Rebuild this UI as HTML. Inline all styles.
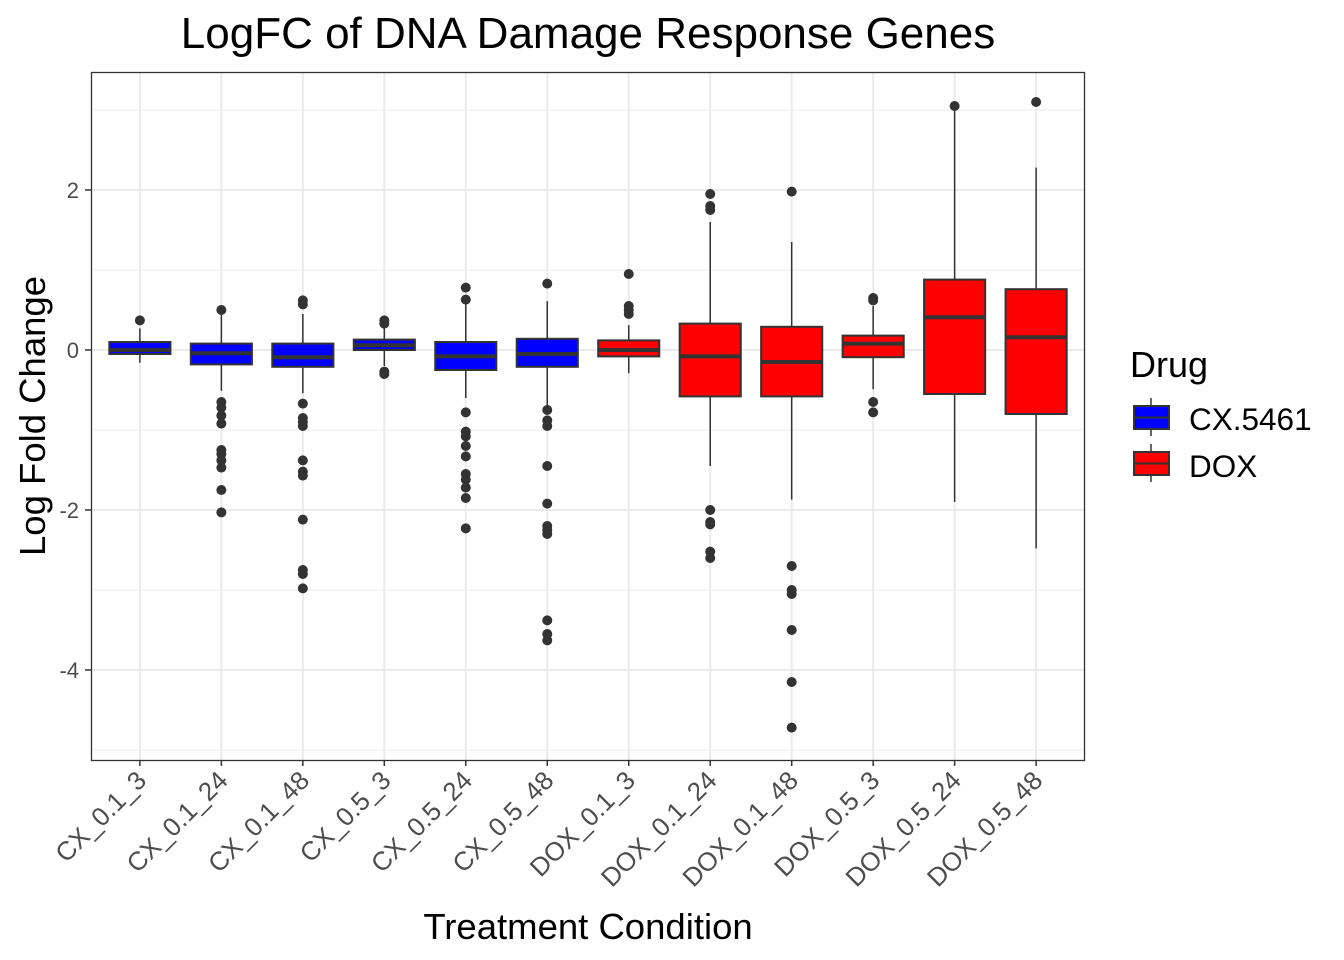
<!DOCTYPE html>
<html><head><meta charset="utf-8"><style>
body{margin:0;background:#fff;}
svg{display:block;font-family:"Liberation Sans",Arial,sans-serif;}
</style></head><body>
<svg id="chart" width="1344" height="960">
<rect x="0" y="0" width="1344" height="960" fill="#fff"/>
<text x="588" y="48" font-size="44" text-anchor="middle" fill="#000">LogFC of DNA Damage Response Genes</text>
<g id="grid"></g>
<g id="marks"></g>
<rect x="91.5" y="72.5" width="993" height="688" fill="none" stroke="#333" stroke-width="1.3"/>
<g id="axes"></g>
<text x="588" y="939" font-size="36.5" text-anchor="middle" fill="#000">Treatment Condition</text>
<text transform="translate(45,416) rotate(-90)" font-size="36.5" text-anchor="middle" fill="#000">Log Fold Change</text>
<g>
<text x="1130" y="377" font-size="36" fill="#000">Drug</text>
<g>
<line x1="1151" y1="398" x2="1151" y2="436" stroke="#333" stroke-width="1.5"/>
<rect x="1134" y="406" width="35" height="23" fill="#0000ff" stroke="#333" stroke-width="2"/>
<line x1="1134" y1="417.5" x2="1169" y2="417.5" stroke="#333" stroke-width="2"/>
<text x="1189" y="430" font-size="31.5" fill="#000">CX.5461</text>
</g>
<g>
<line x1="1151" y1="444" x2="1151" y2="482" stroke="#333" stroke-width="1.5"/>
<rect x="1134" y="452" width="35" height="23" fill="#ff0000" stroke="#333" stroke-width="2"/>
<line x1="1134" y1="463.5" x2="1169" y2="463.5" stroke="#333" stroke-width="2"/>
<text x="1189" y="477" font-size="31.5" fill="#000">DOX</text>
</g>
</g>
</svg>
<script>
const categories=["CX_0.1_3","CX_0.1_24","CX_0.1_48","CX_0.5_3","CX_0.5_24","CX_0.5_48","DOX_0.1_3","DOX_0.1_24","DOX_0.1_48","DOX_0.5_3","DOX_0.5_24","DOX_0.5_48"];
const drug=["CX","CX","CX","CX","CX","CX","DOX","DOX","DOX","DOX","DOX","DOX"];
const q1=[-0.05,-0.18,-0.21,0.0,-0.25,-0.21,-0.08,-0.58,-0.58,-0.09,-0.55,-0.8];
const median=[0.0,-0.04,-0.09,0.06,-0.08,-0.05,0.0,-0.08,-0.15,0.08,0.41,0.16];
const q3=[0.10,0.08,0.08,0.13,0.10,0.14,0.12,0.33,0.29,0.18,0.88,0.76];
const whiskerLow=[-0.16,-0.51,-0.54,-0.2,-0.6,-0.7,-0.29,-1.45,-1.87,-0.49,-1.9,-2.48];
const whiskerHigh=[0.27,0.46,0.45,0.27,0.6,0.61,0.31,1.6,1.35,0.55,3.0,2.28];
const outliers=[[0.37],[0.5,-0.65,-0.72,-0.82,-0.92,-1.25,-1.3,-1.38,-1.47,-1.75,-2.03],[0.57,0.62,-0.67,-0.85,-0.9,-0.95,-1.38,-1.52,-1.57,-2.12,-2.75,-2.8,-2.98],[0.33,0.37,-0.27,-0.3],[0.63,0.78,-0.78,-1.02,-1.08,-1.2,-1.33,-1.55,-1.62,-1.72,-1.85,-2.23],[0.83,-0.75,-0.88,-0.95,-1.45,-1.92,-2.2,-2.25,-2.3,-3.38,-3.55,-3.63],[0.45,0.5,0.55,0.95],[1.95,1.8,1.75,-2.0,-2.15,-2.18,-2.52,-2.6],[1.98,-2.7,-3.0,-3.05,-3.5,-4.15,-4.72],[0.62,0.65,-0.65,-0.78],[3.05],[3.1]];
const yTicks=[2,0,-2,-4];
const yMinor=[3,1,-1,-3,-5];
const colors={CX:"#0000ff",DOX:"#ff0000"};
const NS="http://www.w3.org/2000/svg";
const pLeft=91,pRight=1085,pTop=72,pBottom=760;
const step=(pRight-pLeft)/(categories.length-1+1.2);
function xs(i){return pLeft+step*(0.6+i);}
function ys(v){return 350-80*v;}
function mk(tag,attrs,parent){const e=document.createElementNS(NS,tag);for(const k in attrs)e.setAttribute(k,attrs[k]);parent.appendChild(e);return e;}
const grid=document.getElementById('grid'),marks=document.getElementById('marks'),axes=document.getElementById('axes');
mk('rect',{x:pLeft,y:pTop,width:pRight-pLeft,height:pBottom-pTop,fill:'#fff'},grid);
yMinor.forEach(v=>{const l=mk('line',{x1:pLeft,x2:pRight,y1:ys(v),y2:ys(v),stroke:'#ebebeb','stroke-width':1},grid);

});
yTicks.forEach(v=>{const l=mk('line',{x1:pLeft,x2:pRight,y1:ys(v),y2:ys(v),stroke:'#ebebeb','stroke-width':2},grid);


const t=mk('line',{x1:pLeft-6,x2:pLeft,y1:ys(v),y2:ys(v),stroke:'#333','stroke-width':1.5},axes);


const tx=mk('text',{x:pLeft-12,y:ys(v)+8,'font-size':22,'text-anchor':'end',fill:'#4d4d4d'},axes);
tx.textContent=v;

});
const bw=step*0.75;
categories.forEach((c,i)=>{const x=xs(i);
const gl=mk('line',{x1:x,x2:x,y1:pTop,y2:pBottom,stroke:'#ebebeb','stroke-width':2},grid);


const g=mk('g',{},marks);


mk('line',{x1:x,x2:x,y1:ys(whiskerHigh[i]),y2:ys(q3[i]),stroke:'#333','stroke-width':1.5},g);
mk('line',{x1:x,x2:x,y1:ys(q1[i]),y2:ys(whiskerLow[i]),stroke:'#333','stroke-width':1.5},g);
mk('rect',{x:x-bw/2,y:ys(q3[i]),width:bw,height:ys(q1[i])-ys(q3[i]),fill:colors[drug[i]],stroke:'#333','stroke-width':2},g);
mk('line',{x1:x-bw/2,x2:x+bw/2,y1:ys(median[i]),y2:ys(median[i]),stroke:'#333','stroke-width':4},g);
outliers[i].forEach(v=>{const p=mk('circle',{cx:x,cy:ys(v),r:5,fill:'#333'},g);

});
const t=mk('line',{x1:x,x2:x,y1:pBottom,y2:pBottom+6,stroke:'#333','stroke-width':1.5},axes);


const tx=mk('text',{x:x+8,y:pBottom+22,'font-size':26,'text-anchor':'end',fill:'#4d4d4d',transform:`rotate(-45 ${x+8} ${pBottom+22})`},axes);
tx.textContent=c;

});
</script>
</body></html>
